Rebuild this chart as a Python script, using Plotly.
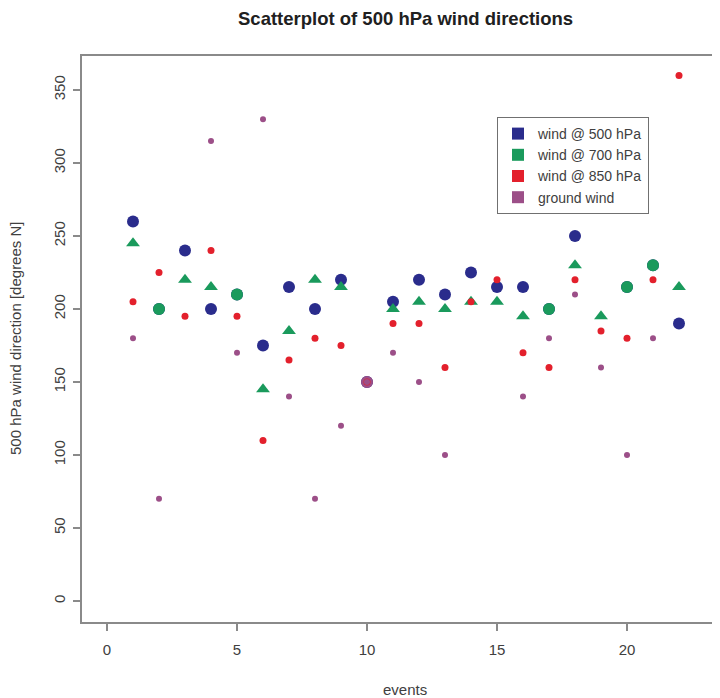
import plotly.graph_objects as go

# ---- data ----
events = list(range(1, 23))
wind_500 = [260, 200, 240, 200, 210, 175, 215, 200, 220, 150, 205,
            220, 210, 225, 215, 215, 200, 250, None, 215, 230, 190]
wind_700 = [245, 200, 220, 215, 210, 145, 185, 220, 215, 150, 200,
            205, 200, 205, 205, 195, 200, 230, 195, 215, 230, 215]
wind_850 = [205, 225, 195, 240, 195, 110, 165, 180, 175, 150, 190,
            190, 160, 205, 220, 170, 160, 220, 185, 180, 220, 360]
ground_wind = [180, 70, None, 315, 170, 330, 140, 70, 120, 150, 170,
               150, 100, None, None, 140, 180, 210, 160, 100, 180, None]

x_ticks = [0, 5, 10, 15, 20]
y_ticks = [0, 50, 100, 150, 200, 250, 300, 350]

# ---- styles ----
C500 = "#2a2c8c"
C700 = "#1a9a5c"
C850 = "#e3202c"
CGND = "#9c4f88"
AXIS = "#8a8a8a"
TXT = "#404040"
FONT = "Liberation Sans, Arial, sans-serif"

# where 700 hPa coincides with 500 hPa, the big marker is drawn as a circle
sym700 = ["circle" if (a is not None and a == b) else "triangle-up"
          for a, b in zip(wind_500, wind_700)]
col700 = [CGND if (g is not None and g == b and a == b) else C700
          for a, b, g in zip(wind_500, wind_700, ground_wind)]

fig = go.Figure()
fig.add_trace(go.Scatter(x=events, y=wind_500, mode="markers",
                         marker=dict(symbol="circle", size=12, color=C500,
                                     opacity=1),
                         showlegend=False))
fig.add_trace(go.Scatter(x=events, y=wind_700, mode="markers",
                         marker=dict(symbol=sym700, size=12, color=col700,
                                     opacity=1),
                         showlegend=False))
fig.add_trace(go.Scatter(x=events, y=wind_850, mode="markers",
                         marker=dict(symbol="circle", size=7, color=C850,
                                     opacity=1),
                         showlegend=False))
fig.add_trace(go.Scatter(x=events, y=ground_wind, mode="markers",
                         marker=dict(symbol="circle", size=6, color=CGND,
                                     opacity=1),
                         showlegend=False))

# legend entries (square keys)
for name, c in [("wind @ 500 hPa", C500), ("wind @ 700 hPa", C700),
                ("wind @ 850 hPa", C850), ("ground wind", CGND)]:
    fig.add_trace(go.Scatter(x=[None], y=[None], mode="markers", name=name,
                             marker=dict(symbol="square", size=10, color=c)))

# the page body has an 8px margin, so the figure is 8px smaller and all
# pixel targets (measured on the page) are shifted by 8px
OFF = 8
W, H = 720 - OFF, 698 - OFF
L, T = 82 - OFF, 56 - OFF
BOTTOM = 622 - OFF
B = H - BOTTOM
plot_w = W - L
plot_h = H - T - B
px_per_x = 26.0
x0_px = 107 - 82         # pixel of x=0 inside plot area
y0_px = 622 - 601        # pixel of y=0 above plot bottom
px_per_y = 1.46

fig.update_layout(
    width=W, height=H,
    margin=dict(l=L, r=0, t=T, b=B, pad=0, autoexpand=False),
    paper_bgcolor="white", plot_bgcolor="white",
    font=dict(family=FONT, size=15, color=TXT),
    showlegend=True,
    legend=dict(x=(497 - 82) / plot_w, y=(622 - 117) / plot_h,
                xanchor="left", yanchor="top",
                bordercolor="#707070", borderwidth=1, bgcolor="white",
                font=dict(size=14, color=TXT), tracegroupgap=0,
                itemsizing="constant",
                entrywidthmode="pixels", entrywidth=125),
    xaxis=dict(range=[-x0_px / px_per_x, (plot_w - x0_px) / px_per_x],
               tickvals=x_ticks, ticktext=[str(v) for v in x_ticks],
               showgrid=False, zeroline=False, automargin=False,
               showline=True, linecolor=AXIS, linewidth=2, mirror=True,
               ticks="outside", ticklen=7, tickwidth=1.5, tickcolor=AXIS,
               ticklabelstandoff=6,
               tickfont=dict(size=15, color=TXT)),
    yaxis=dict(range=[-y0_px / px_per_y, (plot_h - y0_px) / px_per_y],
               tickvals=y_ticks, ticktext=[str(v) for v in y_ticks],
               showgrid=False, zeroline=False, automargin=False,
               showline=True, linecolor=AXIS, linewidth=2, mirror=False,
               ticks="outside", ticklen=7, tickwidth=1.5, tickcolor=AXIS,
               tickangle=-90, ticklabelstandoff=2,
               tickfont=dict(size=15, color=TXT)),
    annotations=[
        dict(text="<b>Scatterplot of 500 hPa wind directions</b>",
             xref="paper", yref="paper", x=(405 - 82) / plot_w,
             y=(622 - 19) / plot_h, xanchor="center", yanchor="middle",
             showarrow=False, font=dict(size=18.5, color="#202020")),
        dict(text="events", xref="paper", yref="paper",
             x=(405 - 82) / plot_w, y=(622 - 689) / plot_h,
             xanchor="center", yanchor="middle", showarrow=False,
             font=dict(size=15, color=TXT)),
        dict(text="500 hPa wind direction [degrees N]", xref="paper",
             yref="paper", x=(15 - 82) / plot_w, y=0.5, textangle=-90,
             xanchor="center", yanchor="middle", showarrow=False,
             font=dict(size=15, color=TXT)),
    ],
)

fig.write_html("out.html")
